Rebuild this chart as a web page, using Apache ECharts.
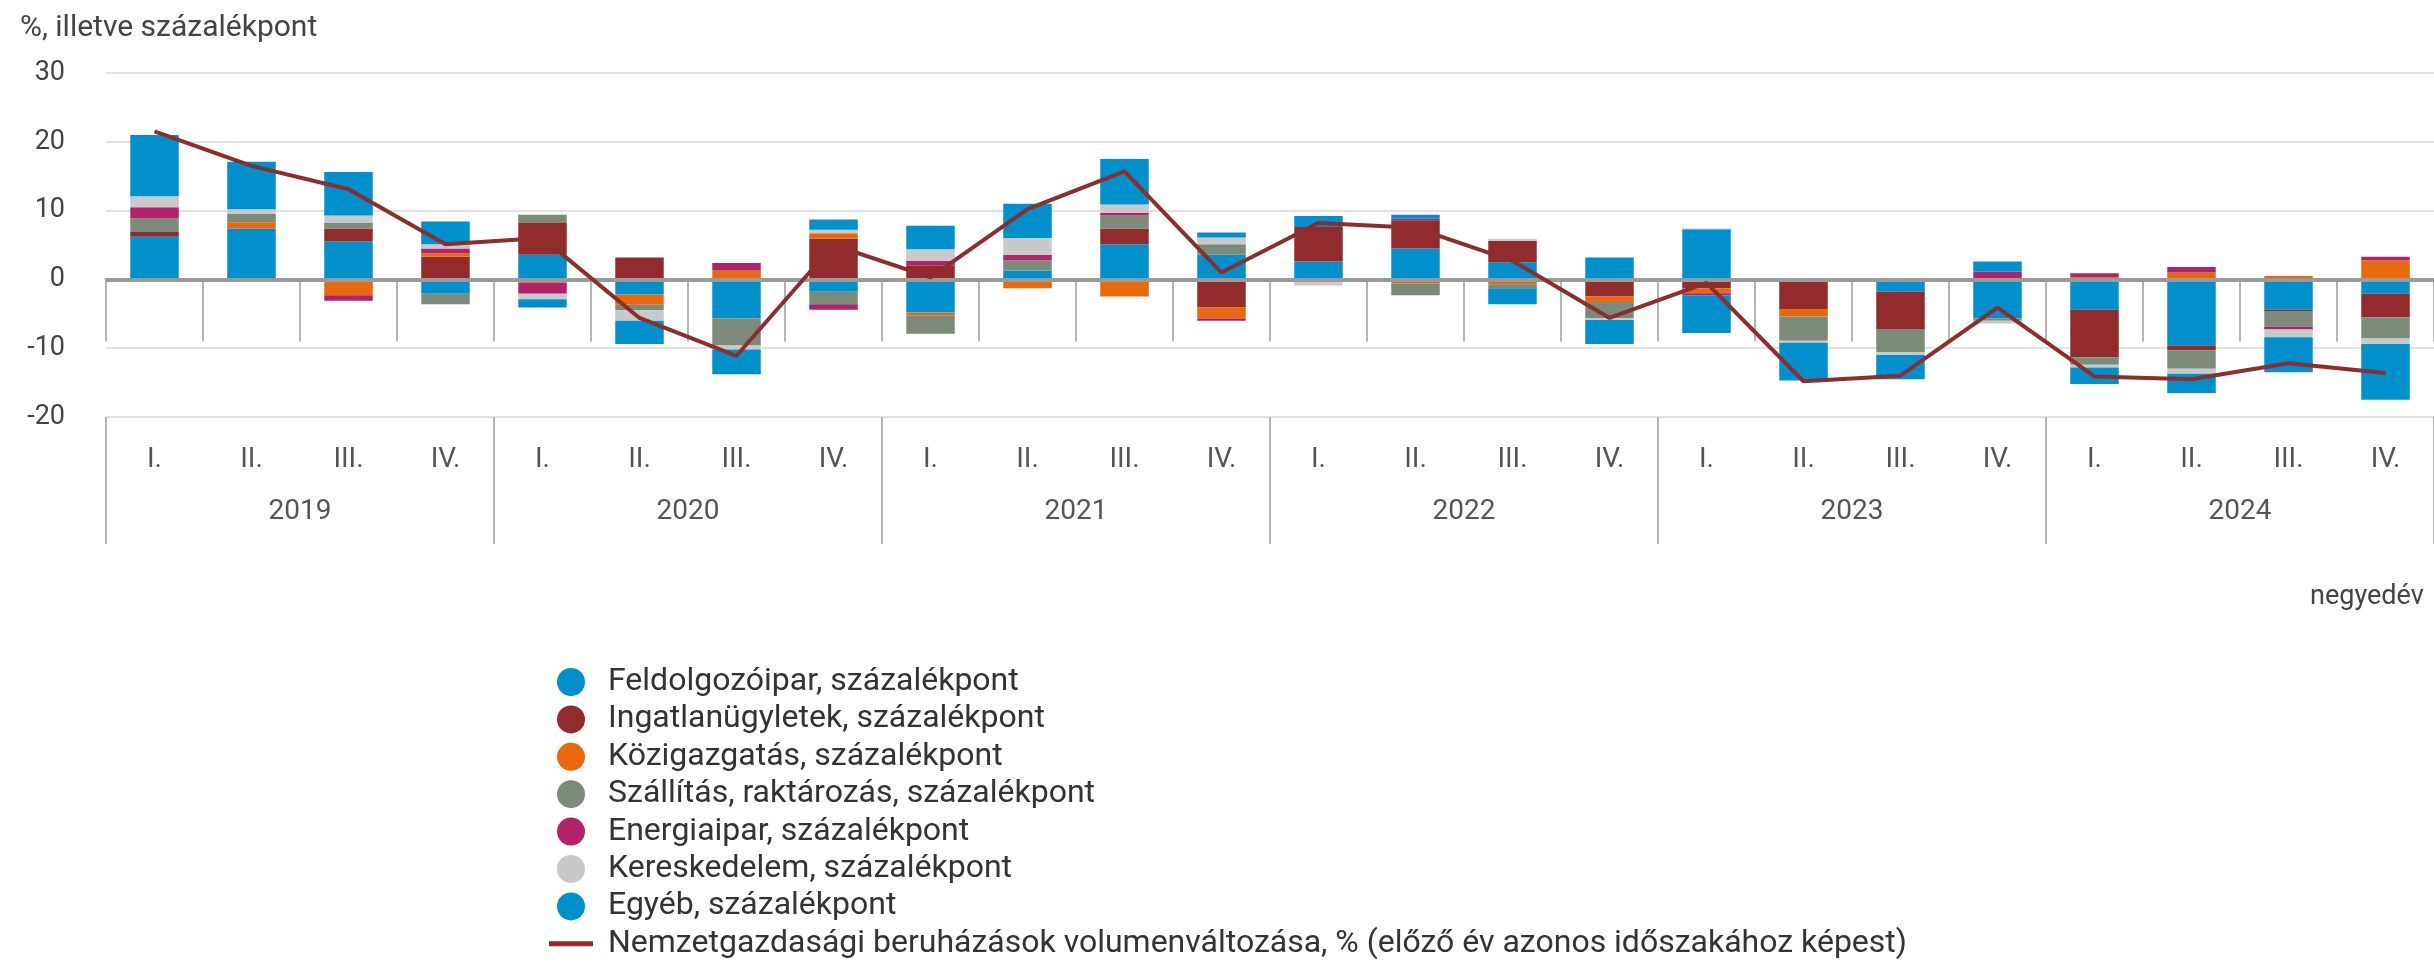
<!DOCTYPE html>
<html>
<head>
<meta charset="utf-8">
<title>Beruházások</title>
<script src="https://cdn.jsdelivr.net/npm/echarts@6/dist/echarts.min.js"></script>
<style>
  html, body { margin: 0; padding: 0; background: #fff; }
  #main { width: 2434px; height: 965px; }
</style>
</head>
<body>
<div id="main"></div>
<script>
var quarters = ['I.','II.','III.','IV.','I.','II.','III.','IV.','I.','II.','III.','IV.',
                'I.','II.','III.','IV.','I.','II.','III.','IV.','I.','II.','III.','IV.'];
var years = ['2019','2020','2021','2022','2023','2024'];

// hozzájárulások, százalékpont
var feldolgozo = [6.2, 7.4, 5.5, -2.1, 3.6, -2.2, -5.7, -1.8, -4.8, 1.3, 5.1, 3.6,
                  2.6, 4.5, 2.5, 3.2, 7.3, 0.2, -1.8, -5.7, -4.4, -9.6, -4.4, -2.1];
var ingatlan = [0.7, 0, 1.9, 3.3, 4.6, 3.2, 0, 5.9, 2.0, 0, 2.3, -4.1,
                5.0, 4.1, 3.1, -2.5, -1.3, -4.3, -5.4, 0, -6.9, -0.7, -0.2, -3.4];
var kozig = [0, 0.9, -2.3, 0.5, -0.5, -1.5, 1.3, 0.8, -0.4, -1.3, -2.5, -1.6,
             0, -0.6, -0.7, -0.8, -0.7, -1.1, 0, 0, 0.3, 1.0, 0.5, 2.8];
var szallitas = [2.0, 1.2, 0.8, -1.5, 1.2, -0.8, -3.9, -1.8, -2.7, 1.5, 1.9, 1.5,
                 0, -1.7, -0.6, -2.3, 0, -3.5, -3.4, -0.3, -1.1, -2.7, -2.3, -3.1];
var energia = [1.6, -0.3, -0.8, 0.7, -1.6, 0, 1.1, -0.8, 0.7, 0.8, 0.4, -0.3,
               -0.4, 0.2, 0, 0, -0.3, 0, 0.2, 1.1, 0.6, 0.8, -0.4, 0.5];
var kereskedelem = [1.6, 0.7, 1.1, 0.6, -0.8, -1.5, -0.6, 0.5, 1.7, 2.4, 1.2, 1.0,
                    -0.5, 0, 0.3, -0.3, 0.1, -0.3, -0.4, -0.4, -0.4, -0.7, -1.1, -0.8];
var egyeb = [8.9, 6.9, 6.3, 3.3, -1.2, -3.4, -3.6, 1.5, 3.4, 5.0, 6.6, 0.7,
             1.6, 0.6, -2.3, -3.5, -5.5, -5.5, -3.5, 1.5, -2.4, -2.8, -5.1, -8.1];
// volumenváltozás, %
var osszesen = [21.5, 16.5, 13.1, 5.1, 6.0, -5.6, -11.1, 5.0, 0.3, 10.2, 15.7, 1.0,
                8.2, 7.5, 2.7, -5.6, -0.5, -14.8, -14.0, -4.1, -14.1, -14.5, -12.2, -13.6];

var font = 'Roboto, "Noto Sans", sans-serif';

var barDefs = [
  ['Feldolgozóipar, százalékpont', feldolgozo, '#0090cc'],
  ['Ingatlanügyletek, százalékpont', ingatlan, '#922b2b'],
  ['Közigazgatás, százalékpont', kozig, '#e8690d'],
  ['Szállítás, raktározás, százalékpont', szallitas, '#7b8a79'],
  ['Energiaipar, százalékpont', energia, '#b0236b'],
  ['Kereskedelem, százalékpont', kereskedelem, '#c8c9cb'],
  ['Egyéb, százalékpont', egyeb, '#0090cc']
];

var series = barDefs.map(function (d, i) {
  var s = {
    name: d[0],
    type: 'bar',
    stack: 'total',
    xAxisIndex: 0,
    barWidth: '50%',
    itemStyle: { color: d[2] },
    data: d[1]
  };
  if (i === 0) {
    s.markLine = {
      silent: true,
      symbol: 'none',
      label: { show: false },
      lineStyle: { color: '#9a9a9a', width: 4, type: 'solid' },
      data: [{ yAxis: 0 }]
    };
  }
  return s;
});

series.push({
  name: 'Nemzetgazdasági beruházások volumenváltozása, % (előző év azonos időszakához képest)',
  type: 'line',
  xAxisIndex: 0,
  symbol: 'none',
  z: 10,
  lineStyle: { color: '#8e2d2d', width: 4 },
  itemStyle: { color: '#8e2d2d' },
  data: osszesen
});

var myChart = echarts.init(document.getElementById('main'));

var option = {
  animation: false,
  textStyle: { fontFamily: font },
  title: {
    text: '%, illetve százalékpont',
    left: 15,
    top: 8,
    textStyle: { fontFamily: font, fontSize: 30, fontWeight: 'normal', color: '#444' }
  },
  graphic: [{
    type: 'text',
    left: 2310,
    top: 584,
    style: { text: 'negyedév', fontFamily: font, fontSize: 27, fill: '#444' }
  }],
  legend: {
    orient: 'vertical',
    left: 549,
    top: 666,
    height: 299,
    padding: 0,
    itemWidth: 44,
    itemHeight: 28,
    itemGap: 5.4,
    data: series.map(function (s, i) {
      return i < 7 ? { name: s.name, icon: 'circle' }
                   : { name: s.name, icon: 'path://M0,0H44V5H0Z' };
    }),
    textStyle: { fontFamily: font, fontSize: 32, color: '#333', lineHeight: 32, padding: [0, 0, 0, 10] }
  },
  grid: { left: 106, right: -5, top: 73, bottom: 548, containLabel: false },
  xAxis: [{
    type: 'category',
    data: quarters,
    position: 'bottom',
    axisLine: { lineStyle: { color: '#aaaaaa', width: 3 } },
    axisTick: { show: true, interval: 0, length: 62, lineStyle: { color: '#b5b5b5', width: 2 } },
    axisLabel: { interval: 0, margin: 29, fontFamily: font, fontSize: 28, color: '#555' },
    splitLine: { show: false }
  }, {
    type: 'category',
    data: years,
    position: 'bottom',
    axisLine: { show: false },
    axisTick: { show: true, interval: 0, length: 127, lineStyle: { color: '#b5b5b5', width: 2 } },
    axisLabel: { interval: 0, margin: 81, fontFamily: font, fontSize: 28, color: '#555' },
    splitLine: { show: false }
  }],
  yAxis: {
    type: 'value',
    min: -20,
    max: 30,
    interval: 10,
    axisLine: { show: false },
    axisTick: { show: false },
    axisLabel: { margin: 41, fontFamily: font, fontSize: 27, color: '#444' },
    splitLine: { lineStyle: { color: '#e2e2e2', width: 2 } }
  },
  series: series
};

myChart.setOption(option);
</script>
</body>
</html>
